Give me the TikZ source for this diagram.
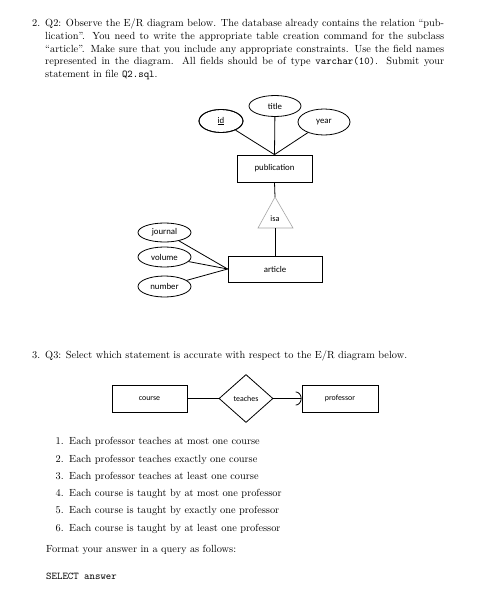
\documentclass[tikz,border=0pt]{standalone}
\usepackage{fontspec}
\newfontfamily\diagfont{Carlito}
\usetikzlibrary{shapes.geometric,arrows.meta}
\newlength\myla
\newcommand\jsp{\spaceskip=0.333em plus 1em minus 0.2em\relax}
\tikzset{
  body/.style={font=\fontsize{\bodysize}{12.8}\selectfont, inner sep=0pt},
  ent/.style={draw, line width=0.8pt, inner sep=0pt, font=\diagfont\fontsize{8.8}{10}\selectfont},
  attr/.style={draw, ellipse, line width=0.8pt, inner sep=0pt, font=\diagfont\fontsize{8.8}{10}\selectfont},
  conn/.style={line width=0.8pt},
  ent2/.style={draw, line width=0.8pt, inner sep=0pt, font=\diagfont\fontsize{7.9}{9}\selectfont}
}
\begin{document}
\begin{tikzpicture}[x=1pt,y=-1pt]
\useasboundingbox[fill=white] (0,0) rectangle (492,594);
\node[inner sep=0pt] (meas) at (0,0) {\settowidth\myla{\fontsize{10}{12}\selectfont Q3: Select which statement is accurate with respect to the E/R diagram below.}\global\myla=\myla};
\pgfmathsetmacro\bodysize{10*362/\myla}

% ---- Question 2 text
\node[body, anchor=base west] (n2) at (32,27) {2.};
\node[body, anchor=base west] (l1) at (45,27) {\hbox to 399pt{\jsp Q2: Observe the E/R diagram below. The database already contains the relation “pub-}};
\node[body, anchor=base west] (l2) at (45,39.5) {\hbox to 399pt{\jsp lication”. You need to write the appropriate table creation command for the subclass}};
\node[body, anchor=base west] (l3) at (45,52.25) {\hbox to 399pt{\jsp “article”. Make sure that you include any appropriate constraints. Use the field names}};
\node[body, anchor=base west] (l4) at (45,65) {\hbox to 399pt{\jsp represented in the diagram. All fields should be of type \texttt{varchar(10)}. Submit your}};
\node[body, anchor=base west] (l5) at (45,77.75) {statement in file \texttt{Q2.sql}.};

% ---- ER diagram 1
\node[ent, minimum width=75pt, minimum height=27pt] (pub) at (274.5,168.5) {publication};
\node[attr, minimum width=52pt, minimum height=21pt] (title) at (275,106) {title};
\node[attr, minimum width=44pt, minimum height=23pt] (idattr) at (221,121) {\setbox0\hbox{id}\rlap{\rule[-1.4pt]{\wd0}{0.5pt}}id};
\draw[line width=0.8pt] (221,121) ellipse [x radius=22, y radius=11.5];
\node[attr, minimum width=52pt, minimum height=26pt] (year) at (324,122) {year};
\draw[conn] (idattr) -- (pub.north);
\draw[conn] (title) -- (pub.north);
\draw[conn] (year) -- (pub.north);

\coordinate (isatop) at (275,197);
\coordinate (isabase) at (275,228);
\draw[gray!70, line width=0.6pt] (isatop) -- (293,228) -- (258,228) -- cycle;
\node[font=\diagfont\fontsize{8.3}{9}\selectfont, inner sep=0pt] (isa) at (275,219) {isa};
\draw[conn] (pub.south) -- (isatop);

\node[ent, minimum width=94pt, minimum height=26pt] (art) at (275,269) {article};
\draw[conn] (isabase) -- (art.north);
\node[attr, minimum width=53pt, minimum height=19pt] (journal) at (164.5,232.5) {journal};
\node[attr, minimum width=53pt, minimum height=20pt] (volume) at (164.5,257) {volume};
\node[attr, minimum width=53pt, minimum height=21pt] (number) at (164.5,286.5) {number};
\draw[conn] (journal) -- (art.west);
\draw[conn] (volume) -- (art.west);
\draw[conn] (number) -- (art.west);

% ---- Question 3 text
\node[body, anchor=base west] (n3) at (32,358) {3.};
\node[body, anchor=base west] (q3) at (45,358) {Q3: Select which statement is accurate with respect to the E/R diagram below.};

% ---- ER diagram 2
\node[ent2, minimum width=75pt, minimum height=27pt] (course) at (149.5,398.5) {course};
\node[ent2, minimum width=76pt, minimum height=27pt] (prof) at (340,398.5) {professor};
\node[ent2, diamond, minimum width=54pt, minimum height=48pt] (teaches) at (246,398.5) {teaches};
\draw[conn] (course) -- (teaches);
\draw[conn, -{Arc Barb[length=6pt, width=14pt, line width=0.8pt]}] (teaches) -- (prof.west);

% ---- list
\foreach \k/\yy/\t in {1/444/{Each professor teaches at most one course},
                        2/462/{Each professor teaches exactly one course},
                        3/479/{Each professor teaches at least one course},
                        4/496/{Each course is taught by at most one professor},
                        5/513/{Each course is taught by exactly one professor},
                        6/531/{Each course is taught by at least one professor}} {
  \node[body, anchor=base east] (num\k) at (64,\yy) {\k.};
  \node[body, anchor=base west] (item\k) at (69,\yy) {\t};
}
\node[body, anchor=base west] (fmt) at (46,552) {Format your answer in a query as follows:};
\node[body, anchor=base west] (sel) at (46,579) {\texttt{SELECT answer}};
\end{tikzpicture}
\end{document}
